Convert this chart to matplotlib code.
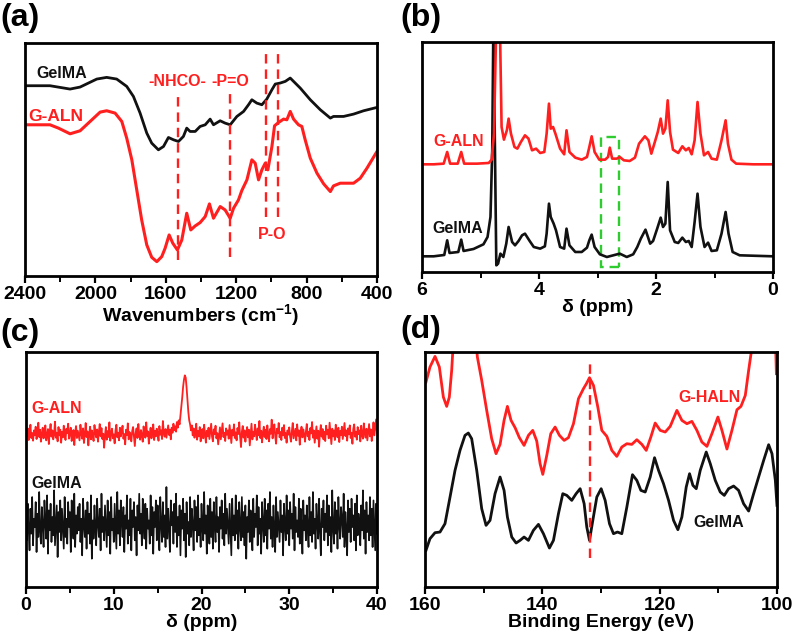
import matplotlib
matplotlib.use("Agg")
import matplotlib.pyplot as plt
from matplotlib.patches import Rectangle

plt.rcParams['font.family'] = ['Liberation Sans', 'DejaVu Sans']
plt.rcParams['font.weight'] = 'bold'
plt.rcParams['mathtext.fontset'] = 'custom'
plt.rcParams['mathtext.bf'] = 'Liberation Sans:bold'
plt.rcParams['mathtext.rm'] = 'Liberation Sans:bold'

RED = '#ff1f1f'
BLACK = '#111111'

### (a) FTIR
ftir_gel_x = [2390, 2258, 2144, 2087, 1992, 1936, 1879, 1822, 1784, 1746, 1708, 1680, 1642, 1613,
              1585, 1556, 1528, 1500, 1481, 1462, 1433, 1405, 1376, 1348, 1329, 1291, 1263, 1234,
              1196, 1158, 1130, 1111, 1083, 1054, 1026, 997, 978, 950, 921, 893, 874, 836, 779,
              722, 665, 647, 590, 533, 476, 400]
ftir_gel_y = [570, 570, 560, 566, 590, 595, 590, 568, 538, 488, 428, 398, 378, 388,
              415, 408, 403, 418, 443, 433, 433, 448, 453, 470, 453, 465, 458, 453,
              478, 493, 513, 528, 518, 513, 530, 558, 575, 578, 583, 593, 583, 563, 528,
              498, 473, 478, 478, 485, 495, 505]
ftir_aln_x = [2390, 2258, 2210, 2144, 2087, 2030, 1973, 1936, 1888, 1850, 1822, 1793, 1765, 1737,
              1708, 1680, 1651, 1623, 1604, 1581, 1560, 1534, 1509, 1481, 1458, 1433, 1405, 1376,
              1352, 1329, 1291, 1263, 1234, 1215, 1187, 1168, 1139, 1111, 1092, 1073, 1054, 1035,
              1020, 997, 982, 959, 931, 912, 893, 874, 846, 827, 808, 779, 741, 703, 665, 647,
              609, 533, 495, 457, 400]
ftir_aln_y = [453, 453, 443, 426, 435, 463, 491, 495, 488, 463, 413, 348, 258, 168,
              93, 56, 43, 58, 83, 123, 98, 78, 108, 188, 138, 150, 160, 178,
              216, 173, 208, 198, 173, 203, 228, 256, 288, 348, 338, 288, 318, 338,
              318, 388, 450, 460, 470, 468, 493, 470, 453, 448, 408, 353, 308, 276, 253, 270,
              278, 278, 293, 323, 373]
ftir_marks = [1532, 1234, 1029, 965]
ftir_ticks = [2400, 2000, 1600, 1200, 800, 400]

### (b) 1H NMR
nmr_aln_x = [6.0, 5.80, 5.63, 5.57, 5.52, 5.39, 5.33, 5.28, 5.06, 4.86, 4.81, 4.77, 4.73, 4.67,
             4.64, 4.60, 4.55, 4.52, 4.48, 4.42, 4.37, 4.31, 4.24, 4.18, 4.12, 4.05, 3.98, 3.91,
             3.87, 3.83, 3.80, 3.76, 3.72, 3.64, 3.57, 3.53, 3.48, 3.38, 3.27, 3.18, 3.14, 3.10,
             3.05, 2.97, 2.87, 2.82, 2.79, 2.75, 2.67, 2.62, 2.55, 2.45, 2.36, 2.29, 2.19, 2.13,
             2.08, 2.02, 1.97, 1.92, 1.88, 1.84, 1.80, 1.76, 1.71, 1.62, 1.55, 1.49, 1.44, 1.39,
             1.34, 1.29, 1.24, 1.18, 1.11, 1.05, 0.96, 0.88, 0.81, 0.77, 0.71, 0.63, 0.34, 0.0]
nmr_aln_y = [323, 323, 325, 360, 325, 325, 360, 325, 325, 327, 337, 415, 755, 755,
             435, 397, 425, 460, 415, 375, 370, 390, 410, 400, 365, 370, 357, 360,
             415, 505, 430, 435, 415, 370, 353, 425, 360, 343, 337, 345, 375, 407,
             360, 337, 337, 345, 373, 340, 340, 345, 335, 333, 343, 385, 407, 395,
             355, 390, 420, 460, 415, 430, 515, 420, 367, 357, 377, 365, 372, 353,
             395, 510, 415, 350, 360, 340, 337, 395, 455, 385, 337, 325, 323, 323]
nmr_gel_x = [6.0, 5.80, 5.62, 5.57, 5.53, 5.38, 5.33, 5.29, 5.12, 4.95, 4.88, 4.83, 4.80, 4.78,
             4.75, 4.73, 4.70, 4.66, 4.61, 4.56, 4.52, 4.46, 4.41, 4.35, 4.29, 4.24, 4.16, 4.09,
             3.98, 3.90, 3.87, 3.83, 3.80, 3.75, 3.71, 3.64, 3.57, 3.53, 3.48, 3.38, 3.27, 3.18,
             3.14, 3.10, 3.05, 2.96, 2.84, 2.73, 2.62, 2.50, 2.39, 2.32, 2.26, 2.18, 2.10, 2.05,
             1.98, 1.92, 1.88, 1.84, 1.80, 1.76, 1.68, 1.62, 1.55, 1.49, 1.44, 1.39, 1.34, 1.29,
             1.24, 1.17, 1.11, 1.05, 0.96, 0.88, 0.81, 0.76, 0.69, 0.57, 0.0]
nmr_gel_y = [47, 47, 51, 95, 57, 60, 97, 63, 69, 83, 105, 165, 365, 755,
             315, 20, 25, 55, 45, 85, 135, 90, 80, 93, 110, 115, 93, 75,
             70, 77, 115, 205, 165, 145, 125, 75, 70, 130, 80, 60, 60, 73,
             95, 112, 75, 53, 45, 50, 55, 45, 53, 75, 100, 127, 85, 93,
             130, 163, 135, 145, 270, 125, 90, 87, 103, 90, 93, 75, 150, 235,
             135, 75, 88, 63, 65, 115, 180, 115, 60, 50, 47]
nmr_box = [2.94, 2.63]
nmr_ticks = [6, 4, 2, 0]

### (c) 31P NMR (0.1 ppm steps from 0 to 40)
p_x = [i * 0.1 for i in range(401)]
p_aln_y = [468, 452, 476, 441, 458, 487, 447, 462, 439, 470,
           455, 481, 444, 466, 493, 450, 472, 436, 459, 478,
           446, 462, 485, 440, 453, 474, 429, 467, 489, 451,
           470, 443, 458, 496, 448, 463, 437, 480, 455, 472,
           433, 466, 449, 484, 457, 441, 475, 462, 490, 445,
           460, 478, 438, 452, 471, 426, 464, 483, 447, 469,
           454, 440, 487, 461, 445, 476, 432, 459, 492, 450,
           467, 425, 458, 481, 443, 470, 455, 438, 486, 463,
           449, 473, 436, 465, 489, 452, 477, 444, 460, 418,
           455, 480, 442, 468, 450, 494, 439, 461, 475, 446,
           458, 431, 470, 487, 449, 463, 440, 478, 452, 466,
           484, 445, 459, 428, 472, 456, 491, 443, 465, 450,
           437, 468, 480, 452, 423, 462, 476, 447, 489, 458,
           442, 471, 455, 436, 482, 461, 448, 494, 453, 467,
           430, 459, 478, 446, 463, 488, 441, 469, 452, 475,
           460, 439, 483, 457, 470, 444, 498, 462, 451, 474,
           448, 467, 485, 456, 472, 443, 478, 463, 490, 470,
           482, 466, 495, 478, 500, 488, 515, 540, 568, 600,
           622, 635, 628, 598, 560, 525, 500, 488, 470, 485,
           455, 476, 448, 463, 490, 442, 468, 452, 480, 437,
           461, 474, 446, 487, 458, 433, 469, 452, 478, 444,
           466, 490, 451, 437, 473, 459, 484, 446, 462, 428,
           455, 479, 443, 468, 491, 450, 463, 438, 476, 457,
           470, 445, 486, 460, 432, 472, 455, 488, 447, 464,
           440, 477, 459, 494, 451, 420, 466, 483, 448, 470,
           436, 461, 480, 449, 472, 425, 458, 490, 443, 466,
           452, 487, 462, 441, 476, 455, 498, 447, 469, 434,
           463, 481, 450, 472, 444, 485, 458, 437, 474, 460,
           502, 446, 469, 488, 453, 430, 475, 461, 492, 449,
           465, 441, 478, 455, 486, 447, 462, 433, 470, 457,
           479, 451, 436, 468, 492, 446, 460, 475, 440, 488,
           454, 470, 427, 463, 481, 449, 473, 458, 436, 467,
           489, 452, 466, 441, 477, 461, 495, 448, 470, 433,
           457, 482, 445, 469, 421, 463, 486, 451, 474, 443,
           466, 438, 484, 458, 472, 446, 493, 460, 429, 475,
           452, 470, 441, 487, 463, 449, 478, 435, 468, 456,
           481, 444, 467, 492, 453, 470, 439, 476, 458, 485,
           447, 463, 430, 474, 488, 451, 466, 442, 480, 459,
           470, 437, 484, 456, 445, 491, 462, 448, 475, 440,
           466, 489, 452, 473, 438, 460, 494, 455, 478, 503,
           462]
p_gel_y = [215, 140, 250, 175, 110, 235, 160, 270, 125, 205,
           180, 255, 105, 220, 150, 285, 165, 130, 240, 185,
           120, 260, 195, 145, 275, 100, 230, 170, 250, 135,
           210, 155, 290, 125, 185, 245, 90, 225, 165, 260,
           140, 235, 175, 115, 270, 150, 205, 130, 255, 180,
           225, 105, 260, 190, 145, 280, 120, 215, 160, 240,
           170, 250, 135, 205, 95, 265, 185, 150, 230, 115,
           255, 160, 220, 130, 275, 85, 200, 145, 245, 175,
           125, 265, 190, 150, 235, 110, 280, 165, 210, 140,
           245, 180, 120, 260, 155, 225, 100, 270, 170, 205,
           135, 250, 185, 115, 285, 160, 230, 125, 260, 195,
           150, 240, 105, 215, 175, 275, 130, 200, 155, 265,
           110, 230, 180, 255, 140, 210, 95, 245, 170, 280,
           160, 220, 125, 265, 185, 145, 250, 115, 235, 175,
           200, 130, 275, 155, 240, 100, 225, 180, 260, 140,
           245, 165, 110, 270, 190, 135, 255, 150, 215, 120,
           300, 145, 235, 175, 105, 260, 185, 225, 130, 250,
           165, 280, 120, 210, 155, 245, 95, 230, 175, 265,
           140, 220, 90, 255, 160, 195, 125, 270, 150, 235,
           185, 110, 260, 170, 240, 135, 275, 155, 205, 120,
           250, 175, 140, 285, 160, 215, 100, 245, 180, 130,
           265, 150, 225, 115, 255, 190, 135, 270, 165, 210,
           105, 240, 175, 260, 145, 220, 125, 280, 160, 235,
           185, 130, 250, 170, 95, 265, 155, 215, 140, 275,
           160, 230, 115, 255, 180, 140, 270, 150, 225, 125,
           245, 85, 210, 165, 260, 135, 230, 175, 110, 265,
           150, 220, 180, 275, 125, 240, 160, 205, 100, 255,
           190, 135, 265, 155, 230, 115, 250, 175, 285, 145,
           210, 120, 245, 170, 105, 270, 150, 225, 180, 135,
           260, 165, 215, 95, 250, 185, 140, 275, 160, 230,
           125, 255, 175, 220, 145, 280, 110, 240, 165, 200,
           150, 265, 130, 235, 185, 100, 260, 170, 215, 140,
           245, 175, 120, 270, 155, 225, 135, 285, 160, 205,
           115, 250, 190, 145, 265, 170, 95, 235, 180, 260,
           140, 220, 165, 275, 125, 245, 155, 210, 105, 290,
           175, 130, 255, 160, 230, 115, 270, 185, 145, 240,
           205, 150, 280, 120, 225, 170, 95, 260, 165, 235,
           135, 265, 180, 215, 140, 250, 110, 275, 155, 220,
           190, 125, 245, 170, 290, 145, 230, 100, 255, 165,
           215, 140, 270, 155, 235, 120, 260, 180, 110, 250,
           160]
p_ticks = [0, 10, 20, 30, 40]

### (d) XPS
xps_haln_x = [159.83, 159.15, 158.29, 157.55, 156.87, 156.30, 155.85, 155.45, 155.05, 151.47,
              151.07, 150.33, 149.48, 148.63, 147.89, 147.20, 146.52, 145.95, 145.33, 144.64,
              143.91, 143.11, 142.37, 141.63, 140.95, 140.38, 139.92, 139.24, 138.56, 137.82,
              137.08, 136.28, 135.55, 134.69, 133.84, 132.99, 132.42, 131.96, 131.28, 130.54,
              129.86, 129.00, 128.15, 127.30, 126.45, 125.59, 124.74, 123.89, 123.03, 122.29,
              121.50, 120.76, 119.90, 119.05, 118.20, 117.06, 116.21, 115.35, 114.50, 113.65,
              112.80, 111.94, 111.09, 110.07, 109.38, 108.53, 107.68, 106.82, 106.14, 105.40,
              104.83, 104.26, 103.87, 100.30, 100.10]
xps_haln_y = [615, 660, 692, 660, 570, 542, 570, 650, 770, 770,
              690, 620, 530, 445, 400, 428, 500, 542, 500, 478,
              448, 425, 455, 470, 438, 370, 338, 395, 460, 480,
              455, 440, 448, 490, 565, 595, 612, 628, 605, 540,
              470, 452, 410, 392, 420, 430, 428, 442, 428, 410,
              450, 492, 470, 465, 482, 530, 500, 490, 497, 470,
              435, 422, 460, 510, 470, 414, 470, 532, 542, 575,
              650, 720, 770, 770, 640]
xps_gel_x = [159.83, 159.15, 158.29, 157.44, 156.59, 155.73, 154.88, 154.03, 153.18, 152.61,
             152.04, 151.18, 150.33, 149.59, 148.91, 148.06, 147.20, 146.52, 145.95, 145.21,
             144.47, 143.79, 143.11, 142.37, 141.52, 140.66, 139.81, 138.79, 138.10, 137.25,
             136.51, 135.83, 134.98, 134.24, 133.55, 132.87, 132.42, 131.96, 131.39, 130.71,
             129.97, 129.29, 128.55, 127.87, 127.19, 126.45, 125.59, 124.63, 123.89, 123.20,
             122.46, 121.61, 120.87, 120.19, 119.34, 118.48, 117.63, 116.89, 116.21, 115.47,
             114.90, 114.33, 113.76, 113.08, 112.06, 111.37, 110.52, 109.67, 108.98, 108.25,
             107.39, 106.54, 105.69, 104.83, 103.98, 103.13, 102.27, 101.42, 100.85, 100.28,
             100.0]
xps_gel_y = [110, 145, 163, 165, 190, 270, 350, 410, 455, 462,
             445, 350, 235, 185, 200, 280, 330, 290, 210, 150,
             132, 140, 150, 140, 170, 188, 160, 117, 140, 220,
             280, 275, 260, 280, 295, 250, 180, 140, 200, 270,
             295, 260, 190, 160, 165, 160, 240, 337, 320, 290,
             285, 330, 388, 350, 310, 260, 200, 172, 210, 300,
             340, 305, 295, 350, 405, 370, 320, 285, 275, 295,
             303, 290, 250, 228, 280, 330, 380, 427, 400, 320,
             245]
xps_mark = 131.8
xps_ticks = [160, 140, 120, 100]

fig = plt.figure(figsize=(7.96, 6.38), dpi=100)


def style(ax, xlim, ylim, ticks, minor, xlabel):
    ax.set_xlim(*xlim)
    ax.set_ylim(*ylim)
    ax.set_xticks(ticks)
    ax.set_xticks(minor, minor=True)
    ax.set_xticklabels([str(t) for t in ticks])
    ax.set_yticks([])
    ax.tick_params(axis='x', which='major', direction='out', length=5, width=1.6,
                   labelsize=14, pad=2)
    ax.tick_params(axis='x', which='minor', direction='out', length=4, width=1.4)
    for lab in ax.get_xticklabels():
        lab.set_fontweight('bold')
    for s in ax.spines.values():
        s.set_linewidth(2.0)
    ax.set_xlabel(xlabel, fontsize=14, fontweight='bold', labelpad=0)


# (a)
ax = fig.add_axes([0.0314, 0.5674, 0.4422, 0.3652])
ax.plot(ftir_gel_x, ftir_gel_y, color=BLACK, lw=2.0)
ax.plot(ftir_aln_x, ftir_aln_y, color=RED, lw=2.2)
ax.plot([ftir_marks[0]] * 2, [48, 543], color=RED, lw=1.7, ls=(0, (4, 2.5)))
ax.plot([ftir_marks[1]] * 2, [58, 548], color=RED, lw=1.7, ls=(0, (4, 2.5)))
ax.plot([ftir_marks[2]] * 2, [178, 673], color=RED, lw=1.7, ls=(0, (4, 2.5)))
ax.plot([ftir_marks[3]] * 2, [178, 673], color=RED, lw=1.7, ls=(0, (4, 2.5)))
ax.text(1537, 583, '-NHCO-', color=RED, fontsize=11.5, ha='center', va='center')
ax.text(1234, 583, '-P=O', color=RED, fontsize=11.5, ha='center', va='center')
ax.text(997, 123, 'P-O', color=RED, fontsize=11.5, ha='center', va='center')
ax.text(2334, 608, 'GelMA', color=BLACK, fontsize=11.5, ha='left', va='center')
ax.text(2381, 478, 'G-ALN', color=RED, fontsize=12.5, ha='left', va='center')
style(ax, (2400, 400), (0, 698), ftir_ticks, [2200, 1800, 1400, 1000, 600],
      'Wavenumbers (cm$^{\\mathbf{-1}}$)')

# (b)
ax = fig.add_axes([0.5302, 0.5737, 0.4409, 0.3605])
ax.plot(nmr_gel_x, nmr_gel_y, color=BLACK, lw=1.9)
ax.plot(nmr_aln_x, nmr_aln_y, color=RED, lw=1.9)
ax.add_patch(Rectangle((nmr_box[1], 15), nmr_box[0] - nmr_box[1], 390, fill=False,
                       edgecolor='#2ecc2e', lw=1.7, ls=(0, (4, 2.5))))
ax.text(5.80, 390, 'G-ALN', color=RED, fontsize=11.5, ha='left', va='center')
ax.text(5.83, 130, 'GelMA', color=BLACK, fontsize=11.5, ha='left', va='center')
style(ax, (6, 0), (0, 690), nmr_ticks, [5, 3, 1], 'δ (ppm)')

# (c)
ax = fig.add_axes([0.0327, 0.0799, 0.4409, 0.3683])
ax.plot(p_x, p_gel_y, color=BLACK, lw=1.2)
ax.plot(p_x, p_aln_y, color=RED, lw=1.3)
ax.text(0.65, 535, 'G-ALN', color=RED, fontsize=11.5, ha='left', va='center')
ax.text(0.65, 310, 'GelMA', color=BLACK, fontsize=11.5, ha='left', va='center')
style(ax, (0, 40), (0, 705), p_ticks, [5, 15, 25, 35], 'δ (ppm)')

# (d)
ax = fig.add_axes([0.5339, 0.0799, 0.4422, 0.3683])
ax.plot(xps_gel_x, xps_gel_y, color=BLACK, lw=2.0)
ax.plot(xps_haln_x, xps_haln_y, color=RED, lw=2.0)
ax.plot([xps_mark] * 2, [88, 675], color=RED, lw=1.7, ls=(0, (4, 2.5)))
ax.text(116.8, 570, 'G-HALN', color=RED, fontsize=11.5, ha='left', va='center')
ax.text(114.2, 195, 'GelMA', color=BLACK, fontsize=11.5, ha='left', va='center')
style(ax, (160, 100), (0, 705), xps_ticks, [150, 130, 110], 'Binding Energy (eV)')

fig.text(0.0, 1 - 18 / 638, '(a)', fontsize=23, fontweight='bold', ha='left', va='center')
fig.text(400 / 796, 1 - 18 / 638, '(b)', fontsize=23, fontweight='bold', ha='left', va='center')
fig.text(0.0, 1 - 333 / 638, '(c)', fontsize=23, fontweight='bold', ha='left', va='center')
fig.text(400 / 796, 1 - 330 / 638, '(d)', fontsize=23, fontweight='bold', ha='left', va='center')

plt.savefig('out.png', dpi=100)
